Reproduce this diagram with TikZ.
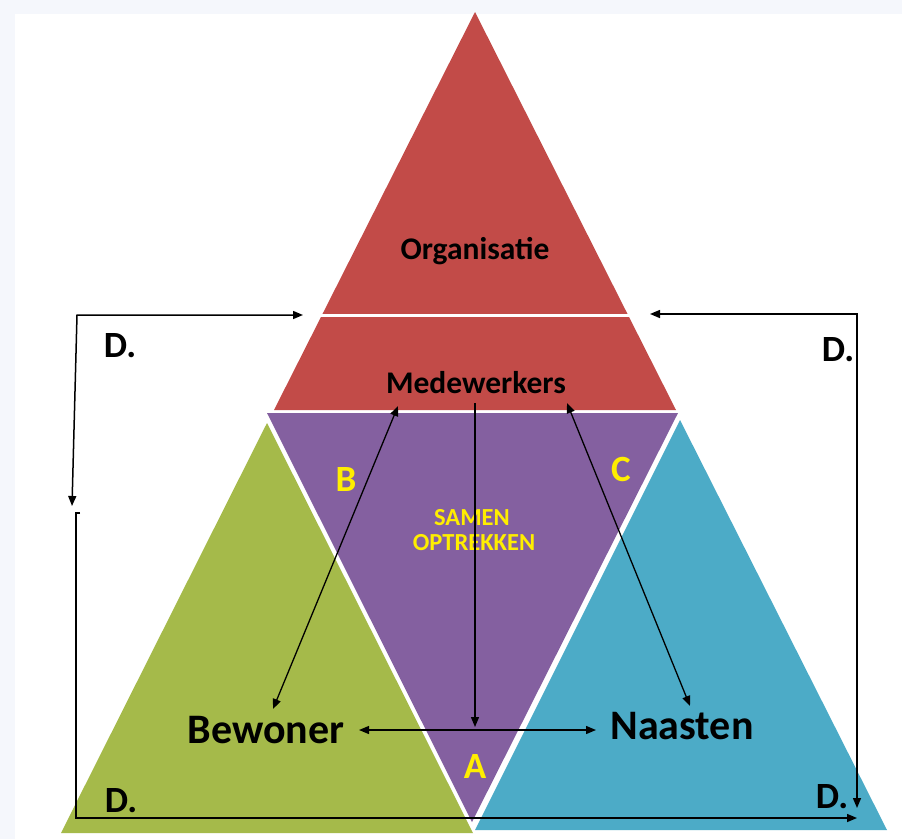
\documentclass[tikz,border=0pt]{standalone}
\usepackage{fontspec}
\setmainfont{Carlito}
\usetikzlibrary{arrows.meta}
\definecolor{bgc}{HTML}{F5F7FC}
\definecolor{redc}{HTML}{C24B48}
\definecolor{purc}{HTML}{8460A0}
\definecolor{grnc}{HTML}{A5BA4A}
\definecolor{bluc}{HTML}{4CABC7}
\definecolor{yelc}{HTML}{FFEE00}
\begin{document}
\begin{tikzpicture}[x=1pt,y=-1pt,
  conn/.style={line width=1.5pt, draw=black},
  oneway/.style={conn, -{Triangle[length=10pt,width=8pt]}},
  twoway/.style={conn, {Triangle[length=10pt,width=8pt]}-{Triangle[length=10pt,width=8pt]}},
  lbl/.style={anchor=base, inner sep=0pt, font=\fontsize{31.5}{31.5}\selectfont\bfseries},
  biglbl/.style={anchor=base, inner sep=0pt, font=\fontsize{42}{42}\selectfont\bfseries},
  dlbl/.style={anchor=base, inner sep=0pt, font=\fontsize{37}{37}\selectfont\bfseries},
  ylbl/.style={anchor=base, inner sep=0pt, text=yelc, font=\fontsize{37}{37}\selectfont\bfseries},
  slbl/.style={anchor=base, inner sep=0pt, text=yelc, font=\fontsize{24.5}{24.5}\selectfont\bfseries}]
\useasboundingbox (0,0) rectangle (902,839);
\fill[bgc] (0,0) rectangle (902,839);
\fill[white] (15,14) rectangle (902,839);
% triangles
\fill[redc] (475,12) -- (676,410) -- (274,410) -- cycle;
\draw[white, line width=3pt] (318,315) -- (632,315);
\fill[purc] (267,413) -- (678,413) -- (472,822) -- cycle;
\fill[grnc] (267,423) -- (473,833) -- (61,833) -- cycle;
\fill[bluc] (680,420) -- (887,830) -- (475,830) -- cycle;
% texts
\node[lbl] (org) at (475,259) {Organisatie};
\node[lbl] (med) at (476,393) {Medewerkers};
\node[biglbl] (bew) at (266,743) {Bewoner};
\node[biglbl] (naa) at (682,739) {Naasten};
\node[slbl] (sam) at (472,525) {SAMEN};
\node[slbl] (opt) at (474,550) {OPTREKKEN};
\node[ylbl] (la) at (475,778) {A};
\node[ylbl] (lb) at (346,491) {B};
\node[ylbl] (lc) at (621,481) {C};
\node[dlbl] (d1) at (120,357) {D.};
\node[dlbl] (d2) at (838,361) {D.};
\node[dlbl] (d3) at (121,812) {D.};
\node[dlbl] (d4) at (832,808) {D.};
% connector points
\coordinate (lT) at (303,315);
\coordinate (lC) at (77,315);
\coordinate (lB) at (72,506);
\coordinate (rT) at (650,314);
\coordinate (rC) at (857,314);
\coordinate (rB) at (857,808);
\coordinate (bK) at (80,513);
\coordinate (bS) at (76,513);
\coordinate (bC) at (76,818);
\coordinate (bE) at (857,818);
\coordinate (mT) at (475,403);
\coordinate (mB) at (475,727);
\coordinate (hL) at (359,730);
\coordinate (hR) at (596,730);
\coordinate (bT) at (398,406);
\coordinate (bB) at (273,709);
\coordinate (cT) at (567,403);
\coordinate (cB) at (690,706);
% connectors
\draw[twoway] (lT) -- (lC) -- (lB);
\draw[twoway] (rT) -- (rC) -- (rB);
\draw[oneway] (bK) -- (bS) -- (bC) -- (bE);
\draw[oneway, line width=1.3pt] (mT) -- (mB);
\draw[twoway, line width=1.3pt] (hL) -- (hR);
\draw[twoway, line width=1.3pt] (bT) -- (bB);
\draw[twoway, line width=1.3pt] (cT) -- (cB);
\end{tikzpicture}
\end{document}
